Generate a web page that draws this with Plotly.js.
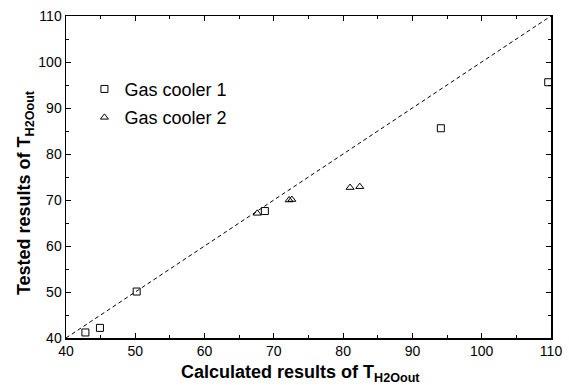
<!DOCTYPE html>
<html>
<head>
<meta charset="utf-8">
<script src="https://cdn.plot.ly/plotly-3.0.1.min.js"></script>
<style>html,body{margin:0;padding:0;background:#fff;}#chart{width:569px;height:385px;}</style>
</head>
<body>
<div id="chart"></div>
<script>
var gc1_x = [42.8, 44.9, 50.2, 68.7, 94.1, 109.6];
var gc1_y = [41.2, 42.2, 50.1, 67.6, 85.6, 95.6];
var gc2_x = [67.6, 72.2, 72.6, 81.0, 82.4];
var gc2_y = [67.1, 70.0, 70.1, 72.7, 72.9];
var diag_x = [40, 110];
var diag_y = [40, 110];
var tickVals = [40, 50, 60, 70, 80, 90, 100, 110];
var xTitle = '<b>Calculated results of T<sub>H2Oout</sub></b>';
var yTitle = '<b>Tested results of T<sub>H2Oout</sub></b>';

var font = 'Arial, "Liberation Sans", sans-serif';
var traces = [
  {x: diag_x, y: diag_y, mode: 'lines', showlegend: false, hoverinfo: 'skip',
   line: {color: '#000', width: 1, dash: '4px,3px'}},
  {x: gc1_x, y: gc1_y, mode: 'markers', name: 'Gas cooler 1', legendgroup: 'g1',
   marker: {symbol: 'square-open', size: 7, color: '#000', line: {width: 1, color: '#000'}}},
  {x: gc2_x, y: gc2_y, mode: 'markers', name: 'Gas cooler 2', legendgroup: 'g2',
   marker: {symbol: 'triangle-up-open', size: 7, color: '#000', line: {width: 1, color: '#000'}}}
];
var axisCommon = {
  range: [40, 110], tickvals: tickVals, ticks: 'inside', ticklen: 5, tickwidth: 1,
  tickcolor: '#000', showline: true, linecolor: '#000', linewidth: 1.5, mirror: 'ticks',
  showgrid: false, zeroline: false, tickfont: {family: font, size: 14, color: '#000'},
  minor: {ticks: 'inside', ticklen: 3, tickcolor: '#000', dtick: 5, tick0: 40}
};
var layout = {
  width: 569, height: 385,
  margin: {l: 66, r: 18, t: 16, b: 47},
  paper_bgcolor: '#fff', plot_bgcolor: '#fff',
  showlegend: true,
  legend: {x: 0.038, y: 0.83, xanchor: 'left', yanchor: 'top', bgcolor: 'rgba(0,0,0,0)',
           font: {family: font, size: 18, color: '#000'}, traceorder: 'grouped', tracegroupgap: 2, itemwidth: 30},
  xaxis: Object.assign({}, axisCommon),
  yaxis: Object.assign({}, axisCommon),
  annotations: [
    {text: xTitle, xref: 'paper', yref: 'paper', x: 0.4825, y: -0.109, xanchor: 'center', yanchor: 'middle',
     showarrow: false, font: {family: font, size: 18, color: '#000'}},
    {text: yTitle, xref: 'paper', yref: 'paper', x: -0.0845, y: 0.45, xanchor: 'center', yanchor: 'middle',
     textangle: -90, showarrow: false, font: {family: font, size: 18, color: '#000'}}
  ]
};
Plotly.newPlot('chart', traces, layout, {staticPlot: true, displayModeBar: false});
</script>
</body>
</html>
